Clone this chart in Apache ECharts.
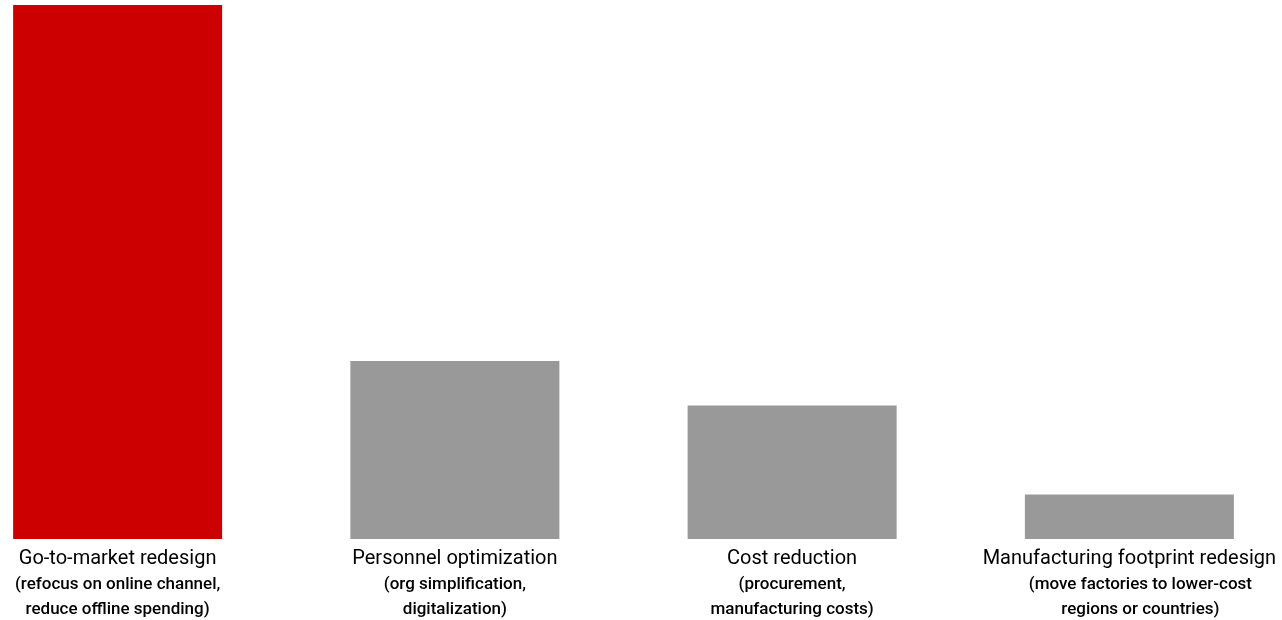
<!DOCTYPE html>
<html>
<head>
<meta charset="utf-8">
<script src="https://cdn.jsdelivr.net/npm/echarts@6/dist/echarts.min.js"></script>
<style>
  html, body { margin: 0; padding: 0; background: #ffffff; overflow: hidden; }
  #wrap { position: relative; width: 1282px; height: 620px; overflow: hidden; }
  /* the category bands run slightly past both page edges */
  #chart { position: absolute; left: -51px; top: 0; width: 1349px; height: 620px; }
</style>
</head>
<body>
<div id="wrap"><div id="chart"></div></div>
<script>
// Restructuring levers and their relative weight
const leverNames = [
  'Go-to-market redesign',
  'Personnel optimization',
  'Cost reduction',
  'Manufacturing footprint redesign'
];
const leverDetails = [
  ['(refocus on online channel,', 'reduce offline spending)'],
  ['(org simplification,', 'digitalization)'],
  ['(procurement,', 'manufacturing costs)'],
  ['(move factories to lower-cost', 'regions or countries)']
];
const leverValues = [60, 20, 15, 5];
const highlightIndex = 0;

const RED = '#cc0000';
const GREY = '#999999';

const chart = echarts.init(document.getElementById('chart'), null, { renderer: 'canvas' });

chart.setOption({
  animation: false,
  backgroundColor: '#ffffff',
  grid: { left: 0, right: 0, top: 5, bottom: 81, containLabel: false },
  xAxis: {
    type: 'category',
    data: leverNames,
    axisLine: { show: false },
    axisTick: { show: false },
    axisLabel: {
      interval: 0,
      margin: 7,
      formatter: function (value, idx) {
        const d = leverDetails[idx];
        const s = idx === 3 ? 'c' : 'b';
        return '{a|' + value + '}\n{' + s + '|' + d[0] + '}\n{' + s + '|' + d[1] + '}';
      },
      rich: {
        a: { fontFamily: 'Roboto', fontSize: 20, color: '#000000', lineHeight: 26 },
        b: { fontFamily: 'Roboto', fontSize: 17, fontWeight: 500, color: '#000000', lineHeight: 25 },
        c: { fontFamily: 'Roboto', fontSize: 17, fontWeight: 500, color: '#000000', lineHeight: 25, padding: [0, 0, 0, 22] }
      }
    }
  },
  yAxis: {
    type: 'value',
    min: 0,
    max: 60,
    show: false,
    splitLine: { show: false }
  },
  series: [{
    type: 'bar',
    barWidth: 209,
    data: leverValues.map(function (v, i) {
      return { value: v, itemStyle: { color: i === highlightIndex ? RED : GREY } };
    })
  }]
});
</script>
</body>
</html>
